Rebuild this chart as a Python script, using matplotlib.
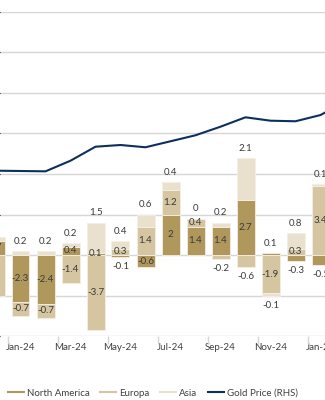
import matplotlib.pyplot as plt
from matplotlib.lines import Line2D
import numpy as np

# monthly flows by region (bars, LHS) and gold price (line, RHS)
months = ['Dec-23', 'Jan-24', 'Feb-24', 'Mar-24', 'Apr-24', 'May-24', 'Jun-24',
          'Jul-24', 'Aug-24', 'Sep-24', 'Oct-24', 'Nov-24', 'Dec-24', 'Jan-25']
north_america = [0.7, -2.3, -2.4, 0.4, 0.1, -0.1, -0.6, 2, 1.4, 1.4, 2.7, 0.1, -0.3, -0.5]
europa = [-2, -0.7, -0.7, -1.4, -3.7, 0.3, 1.4, 1.2, 0.4, -0.2, -0.6, -1.9, 0.3, 3.4]
asia = [0.2, 0.2, 0.2, 0.2, 1.5, 0.4, 0.6, 0.4, 0, 0.2, 2.1, -0.1, 0.8, 0.1]

gold_months = months + ['Feb-25']
gold_price = [2041, 2037, 2033, 2164, 2337, 2358, 2330, 2404, 2478, 2584,
              2700, 2658, 2651, 2728, 2895]

# labels that sit outside the end of the stack instead of in the segment
outside = {('May-24', 'North America'), ('Sep-24', 'Europa'), ('Oct-24', 'Europa'),
           ('Nov-24', 'North America'), ('Dec-24', 'North America'),
           ('Jan-25', 'North America')}

colors = {'North America': '#b0975b', 'Europa': '#d5c5a1', 'Asia': '#e9e1cd'}
navy = '#0c2f5c'
txt = '#3a3a3a'

plt.rcParams['font.family'] = ['Lato', 'DejaVu Sans']

fig = plt.figure(figsize=(3.25, 4), dpi=100)
ax = fig.add_axes([0, 0.16, 1, 0.81])

x = np.arange(len(months))
pos = np.zeros(len(months))
neg = np.zeros(len(months))
segments = []
for name, vals in [('North America', north_america), ('Europa', europa), ('Asia', asia)]:
    vals = np.array(vals, dtype=float)
    base = np.where(vals >= 0, pos, neg)
    ax.bar(x, vals, 0.72, bottom=base, color=colors[name], edgecolor='#f4efe4',
           linewidth=0.6, zorder=2)
    segments.append((name, vals, base))
    pos = pos + np.where(vals >= 0, vals, 0)
    neg = neg + np.where(vals < 0, vals, 0)

for name, vals, base in segments:
    for i, v in enumerate(vals):
        label = f'{v:g}'
        if name == 'Asia' or (months[i], name) in outside:
            if v >= 0:
                ax.annotate(label, (x[i], pos[i]), xytext=(0, 7), textcoords='offset points',
                            ha='center', va='center', fontsize=7, color=txt, zorder=4)
            else:
                ax.annotate(label, (x[i], neg[i]), xytext=(0, -7), textcoords='offset points',
                            ha='center', va='center', fontsize=7, color=txt, zorder=4)
        else:
            ax.text(x[i], base[i] + v / 2, label, ha='center', va='center',
                    fontsize=7, color=txt, zorder=4)

ax.set_ylim(-4, 12)
ax.set_yticks(np.arange(-4, 13, 2))
ax.grid(axis='y', color='#d6d6d6', linewidth=1.0, zorder=0)
ax.set_axisbelow(True)
ax.set_xlim(0.18, 13.18)

lab_idx = [i for i in range(len(months)) if i % 2 == 1]
ax.set_xticks(lab_idx)
ax.set_xticklabels([months[i] for i in lab_idx], fontsize=7, color='#404040')
ax.set_xticks([i - 0.5 for i in lab_idx], minor=True)
ax.tick_params(axis='x', which='major', length=0, pad=5)
ax.tick_params(axis='x', which='minor', length=6, color='#d6d6d6', width=1)
ax.tick_params(axis='y', left=False, labelleft=False)
for s in ax.spines.values():
    s.set_visible(False)

ax2 = ax.twinx()
ax2.plot(np.arange(len(gold_months)), gold_price, color=navy, linewidth=1.5, zorder=3)
ax2.set_ylim(0, 4000)
ax2.tick_params(axis='y', right=False, labelright=False)
for s in ax2.spines.values():
    s.set_visible(False)
ax2.set_xlim(0.18, 13.18)

handles = [Line2D([], [], color=colors['North America'], lw=1.5),
           Line2D([], [], color=colors['Europa'], lw=1.5),
           Line2D([], [], color=colors['Asia'], lw=1.5),
           Line2D([], [], color=navy, lw=1.5)]
fig.legend(handles, ['North America', 'Europa', 'Asia', 'Gold Price (RHS)'],
           loc='center', bbox_to_anchor=(153 / 325, 1 - 393 / 400), ncol=4,
           frameon=False, fontsize=7, handlelength=1.6, handletextpad=0.35,
           columnspacing=1.1, labelcolor='#404040')

fig.savefig('out.png', dpi=100)
